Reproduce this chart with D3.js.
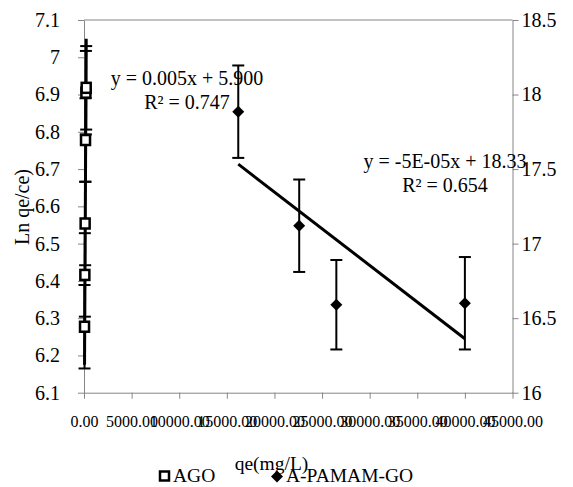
<!DOCTYPE html>
<html>
<head>
<meta charset="utf-8">
<script src="https://cdn.jsdelivr.net/npm/d3@7"></script>
<style>
  html, body { margin: 0; padding: 0; background: #fff; }
  svg { display: block; }
  svg text { font-family: "Liberation Serif", "Times New Roman", serif; }
</style>
</head>
<body>
<svg id="chart" width="573" height="487"></svg>
<script>
// Tick values
const xTicks = [0, 5000, 10000, 15000, 20000, 25000, 30000, 35000, 40000, 45000];
const leftTicks = [6.1, 6.2, 6.3, 6.4, 6.5, 6.6, 6.7, 6.8, 6.9, 7.0, 7.1];
const rightTicks = [16, 16.5, 17, 17.5, 18, 18.5];

// AGO series (left axis)
const agoQe  = [55, 90, 120, 160, 200, 230];
const agoLn  = [6.277, 6.416, 6.554, 6.778, 6.905, 6.918];
const agoErr = [0.112, 0.112, 0.112, 0.112, 0.112, 0.112];

// A-PAMAM-GO series (right axis)
const pamQe  = [16200, 22600, 26500, 40000];
const pamLn  = [17.885, 17.12, 16.59, 16.60];
const pamErr = [0.31, 0.31, 0.30, 0.31];

// Linear trendlines: [slope, intercept]
const agoTrend = [0.005, 5.900];
const pamTrend = [-4.92e-5, 18.33];
const agoTrendText = ["y = 0.005x + 5.900", "R² = 0.747"];
const pamTrendText = ["y = -5E-05x + 18.33", "R² = 0.654"];

const seriesNames = ["AGO", "A-PAMAM-GO"];
const xTitle = "qe(mg/L)";
const yTitle = "Ln qe/ce)";

const GRAY = "#868686";

const svg = d3.select("#chart");
const L = 84, R = 512.5, T = 20, B = 392.7;

const x  = d3.scaleLinear().domain([0, 45000]).range([L, R]);
const yL = d3.scaleLinear().domain([6.1, 7.1]).range([B, T]);
const yR = d3.scaleLinear().domain([16, 18.5]).range([B, T]);

// plot frame (top border)
svg.append("line").attr("x1", L).attr("x2", R).attr("y1", T).attr("y2", T)
  .attr("stroke", GRAY).attr("stroke-width", 1);

function styleAxis(g, size) {
  g.attr("font-family", null).attr("font-size", size);
  g.select(".domain").attr("stroke", GRAY);
  g.selectAll(".tick line").attr("stroke", GRAY);
  g.selectAll(".tick text").attr("fill", "#000");
}

const gx = svg.append("g").attr("transform", `translate(0,${B})`)
  .call(d3.axisBottom(x).tickValues(xTicks).tickSize(6).tickSizeOuter(0)
    .tickPadding(17).tickFormat(d3.format(".2f")));
styleAxis(gx, 16);

const gl = svg.append("g").attr("transform", `translate(${L},0)`)
  .call(d3.axisLeft(yL).tickValues(leftTicks).tickSize(6).tickSizeOuter(0)
    .tickPadding(18).tickFormat(d3.format("")));
styleAxis(gl, 20);

const gr = svg.append("g").attr("transform", `translate(${R},0)`)
  .call(d3.axisRight(yR).tickValues(rightTicks).tickSize(6).tickSizeOuter(0)
    .tickPadding(3).tickFormat(d3.format("")));
styleAxis(gr, 20);

// axis titles
svg.append("text").attr("x", 271.5).attr("y", 470).attr("text-anchor", "middle")
  .attr("font-size", 19.5).text(xTitle);
svg.append("text").attr("transform", "translate(29,207) rotate(-90)")
  .attr("text-anchor", "middle").attr("font-size", 20)
  .text(yTitle);

const plot = svg.append("g");

function drawSeries(qe, ln, err, ys, cls) {
  const d = qe.map((v, i) => ({ x: v, y: ln[i], e: err[i] }));
  const eb = plot.append("g").attr("class", cls + "-err")
    .attr("stroke", "#000").attr("stroke-width", 2).attr("fill", "none");
  eb.selectAll("line.v").data(d).join("line").attr("class", "v")
    .attr("x1", p => x(p.x)).attr("x2", p => x(p.x))
    .attr("y1", p => ys(p.y + p.e)).attr("y2", p => ys(p.y - p.e));
  eb.selectAll("line.t").data(d).join("line").attr("class", "t")
    .attr("x1", p => x(p.x) - 6).attr("x2", p => x(p.x) + 6)
    .attr("y1", p => ys(p.y + p.e)).attr("y2", p => ys(p.y + p.e));
  eb.selectAll("line.b").data(d).join("line").attr("class", "b")
    .attr("x1", p => x(p.x) - 6).attr("x2", p => x(p.x) + 6)
    .attr("y1", p => ys(p.y - p.e)).attr("y2", p => ys(p.y - p.e));
  return d;
}

function drawTrend(qe, coef, ys) {
  const [lo, hi] = d3.extent(qe);
  plot.append("line")
    .attr("x1", x(lo)).attr("y1", ys(coef[0] * lo + coef[1]))
    .attr("x2", x(hi)).attr("y2", ys(coef[0] * hi + coef[1]))
    .attr("stroke", "#000").attr("stroke-width", 3);
}

const agoPts = drawSeries(agoQe, agoLn, agoErr, yL, "ago");
const pamPts = drawSeries(pamQe, pamLn, pamErr, yR, "pam");
drawTrend(agoQe, agoTrend, yL);
drawTrend(pamQe, pamTrend, yR);

const diamond = "M0,-6L6,0L0,6L-6,0Z";

plot.selectAll("rect.ago").data(agoPts).join("rect").attr("class", "ago")
  .attr("x", p => x(p.x) - 4.5).attr("y", p => yL(p.y) - 5)
  .attr("width", 9).attr("height", 10)
  .attr("fill", "#fff").attr("stroke", "#000").attr("stroke-width", 2.5);

plot.selectAll("path.pam").data(pamPts).join("path").attr("class", "pam")
  .attr("transform", p => `translate(${x(p.x)},${yR(p.y)})`)
  .attr("d", diamond).attr("fill", "#000");

// trendline equations
function eqLabel(lines, cx, y0) {
  const t = svg.append("text").attr("font-size", 20).attr("text-anchor", "middle");
  lines.forEach((s, i) => t.append("tspan").attr("x", cx).attr("y", y0 + i * 24).text(s));
}
eqLabel(agoTrendText, 187, 85);
eqLabel(pamTrendText, 445, 168);

// legend
const lg = svg.append("g").attr("font-size", 19.5);
lg.append("rect").attr("x", 160).attr("y", 471.5).attr("width", 9).attr("height", 9)
  .attr("fill", "#fff").attr("stroke", "#000").attr("stroke-width", 2.5);
lg.append("text").attr("x", 173).attr("y", 482).text(seriesNames[0]);
lg.append("path").attr("transform", "translate(277,476.5)").attr("d", diamond).attr("fill", "#000");
lg.append("text").attr("x", 286).attr("y", 482).text(seriesNames[1]);
</script>
</body>
</html>
